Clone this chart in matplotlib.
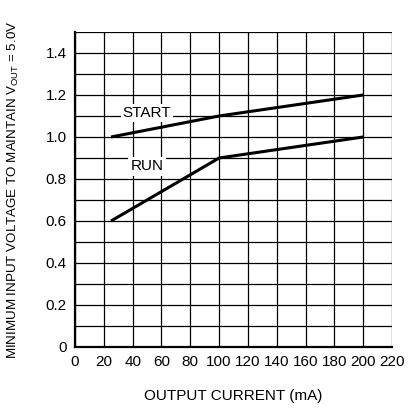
import matplotlib
matplotlib.use("Agg")
import matplotlib.pyplot as plt
import numpy as np

plt.rcParams['font.family'] = ['Liberation Sans', 'DejaVu Sans']
plt.rcParams['mathtext.fontset'] = 'custom'
plt.rcParams['mathtext.rm'] = 'Liberation Sans'

current = [25, 100, 200]
start_v = [1.0, 1.1, 1.2]
run_v = [0.6, 0.9, 1.0]
x_ticks = list(range(0, 221, 20))
y_ticks = [0, 0.2, 0.4, 0.6, 0.8, 1.0, 1.2, 1.4]
y_tick_labels = ['0', '0.2', '0.4', '0.6', '0.8', '1.0', '1.2', '1.4']

fig = plt.figure(figsize=(4.15, 4.08), dpi=100)
ax = fig.add_axes([75 / 415, 1 - 347 / 408, (392 - 75) / 415, (347 - 32) / 408])

ax.set_xlim(0, 220)
ax.set_ylim(0, 1.5)
ax.set_xticks(x_ticks)
ax.set_yticks(y_ticks)
ax.set_yticklabels(y_tick_labels)
ax.set_yticks(np.arange(0, 1.51, 0.1), minor=True)
ax.grid(True, which='both', color='black', linewidth=0.9)
ax.tick_params(which='both', length=0, labelsize=11, pad=6)
for s in ['top', 'right']:
    ax.spines[s].set_visible(False)
for s in ['left', 'bottom']:
    ax.spines[s].set_linewidth(1.6)

ax.plot(current, start_v, color='black', linewidth=2.2, solid_capstyle='butt')
ax.plot(current, run_v, color='black', linewidth=2.2, solid_capstyle='butt')

box = dict(facecolor='white', edgecolor='none', pad=1.5)
ax.text(50, 1.115, 'START', ha='center', va='center', fontsize=11, bbox=box)
ax.text(50, 0.86, 'RUN', ha='center', va='center', fontsize=11, bbox=box)

ax.set_xlabel('OUTPUT CURRENT (mA)', fontsize=11, labelpad=14)
ax.set_ylabel('MINIMUM INPUT VOLTAGE TO MAINTAIN V$_{\\mathrm{OUT}}$ = 5.0V', fontsize=9.6, labelpad=18)

fig.savefig('out.png', dpi=100)
